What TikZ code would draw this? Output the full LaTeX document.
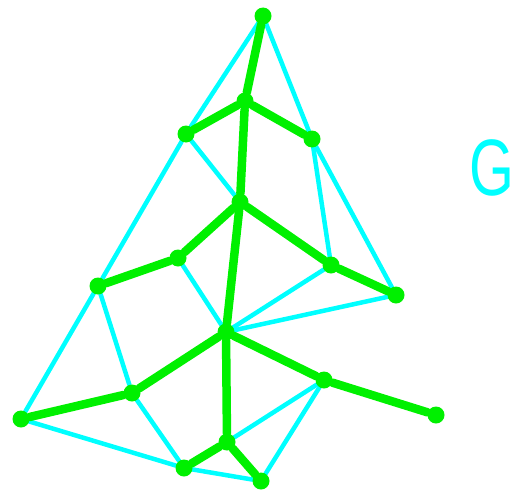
\documentclass[tikz,border=0pt]{standalone}
\usepackage{fontspec}
\setsansfont{Liberation Sans}
\usetikzlibrary{backgrounds}
\definecolor{gcyan}{RGB}{0,255,255}
\definecolor{tgreen}{RGB}{0,240,0}
\tikzset{
  vert/.style  = {circle, fill=tgreen, inner sep=0pt, minimum size=17pt},
  gedge/.style = {draw=gcyan, line width=4.5pt, line cap=round},
  tedge/.style = {draw=tgreen, line width=8.5pt, line cap=round}
}

\begin{document}
\begin{tikzpicture}[x=1pt, y=-1pt]
\useasboundingbox (0,0) rectangle (529,495);
% vertices
\node[vert] (top)  at (263,16)  {};
\node[vert] (apex) at (245,101) {};
\node[vert] (ul)   at (186,134) {};
\node[vert] (ur)   at (312,139) {};
\node[vert] (mid)  at (240,202) {};
\node[vert] (ml)   at (178,258) {};
\node[vert] (mr)   at (331,265) {};
\node[vert] (rr)   at (396,295) {};
\node[vert] (ll)   at (98,286)  {};
\node[vert] (ctr)  at (226,332) {};
\node[vert] (cr)   at (324,380) {};
\node[vert] (far)  at (436,415) {};
\node[vert] (bl)   at (132,393) {};
\node[vert] (lt)   at (21,419)  {};
\node[vert] (bc)   at (227,442) {};
\node[vert] (b1)   at (184,468) {};
\node[vert] (b2)   at (261,481) {};
\node[font=\sffamily\fontsize{80}{80}\selectfont, text=gcyan, xscale=0.72] (name) at (492,168) {G};
\begin{pgfonlayer}{background}
% graph edges
\draw[gedge] (top) -- (ul);
\draw[gedge] (top) -- (ur);
\draw[gedge] (ur) -- (rr);
\draw[gedge] (ul) -- (apex);
\draw[gedge] (apex) -- (ur);
\draw[gedge] (ul) -- (mid);
\draw[gedge] (ur) -- (mr);
\draw[gedge] (ul) -- (ll);
\draw[gedge] (ll) -- (lt);
\draw[gedge] (ml) -- (ctr);
\draw[gedge] (ctr) -- (rr);
\draw[gedge] (ctr) -- (mr);
\draw[gedge] (ll) -- (bl);
\draw[gedge] (lt) -- (b1);
\draw[gedge] (bl) -- (b1);
\draw[gedge] (b1) -- (b2);
\draw[gedge] (cr) -- (bc);
\draw[gedge] (cr) -- (b2);
\draw[gedge] (bl) -- (lt);
\draw[gedge] (ctr) -- (bl);
\draw[gedge] (ctr) -- (cr);
\draw[gedge] (cr) -- (far);
% tree edges
\draw[tedge] (top) -- (apex);
\draw[tedge] (apex) -- (ul);
\draw[tedge] (apex) -- (ur);
\draw[tedge] (apex) -- (mid);
\draw[tedge] (mid) -- (ml);
\draw[tedge] (ml) -- (ll);
\draw[tedge] (mid) -- (mr);
\draw[tedge] (mr) -- (rr);
\draw[tedge] (mid) -- (ctr);
\draw[tedge] (ctr) -- (bc);
\draw[tedge] (ctr) -- (bl);
\draw[tedge] (bl) -- (lt);
\draw[tedge] (ctr) -- (cr);
\draw[tedge] (cr) -- (far);
\draw[tedge] (bc) -- (b1);
\draw[tedge] (bc) -- (b2);
\end{pgfonlayer}
\end{tikzpicture}
\end{document}
